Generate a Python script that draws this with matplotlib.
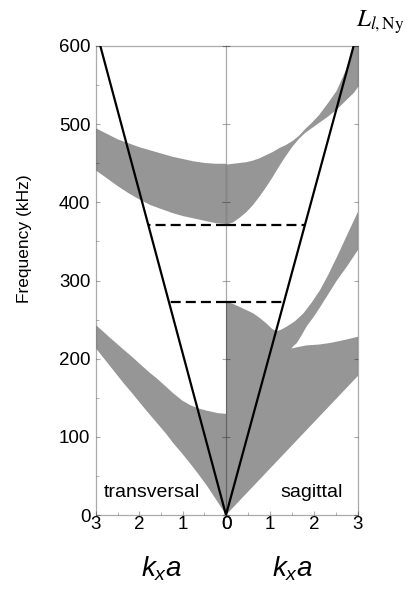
import numpy as np
import matplotlib
matplotlib.use("Agg")
import matplotlib.pyplot as plt
from matplotlib.ticker import MultipleLocator

plt.rcParams['font.family'] = ['Liberation Sans', 'DejaVu Sans']
plt.rcParams['mathtext.fontset'] = 'custom'
plt.rcParams['mathtext.it'] = 'Liberation Sans:italic'
plt.rcParams['mathtext.rm'] = 'Liberation Sans'

# longitudinal sound line L_l,Ny (same on both sides)
sound_k = [0.0, 2.9]
sound_f = [0.0, 600.0]
# frequencies of the horizontal dashed markers (kHz)
dash_levels = [371, 272]

# transversal side: bands as (k, lower, upper)
tr_up_k = [0.0, 0.25, 0.5, 0.75, 1.0, 1.25, 1.5, 1.75, 2.0, 2.25, 2.5, 2.75, 3.0]
tr_up_lo = [373, 374, 377, 380, 383, 387, 392, 397, 404, 412, 421, 431, 441]
tr_up_hi = [450, 450, 451, 453, 456, 459, 463, 467, 471, 476, 481, 488, 495]

tr_lo_k = [0.0, 0.2, 0.45, 0.65, 0.83, 1.02, 1.22, 1.4, 1.6, 1.8, 1.98, 2.2, 2.37, 2.7, 3.0]
tr_lo_lo = [0, 17, 38, 53, 66, 79, 92, 105, 118, 131, 143, 158, 169, 192, 213]
tr_lo_hi = [130, 131, 134, 137, 141, 147, 156, 165, 175, 184, 193, 204, 212, 228, 243]

# sagittal side
sg_up_k = [0.0, 0.15, 0.3, 0.45, 0.6, 0.75, 0.9, 1.05, 1.2, 1.35, 1.5,
           1.65, 1.8, 1.95, 2.1, 2.3, 2.5, 2.7, 2.9, 3.0]
sg_up_lo = [372, 375, 381, 388, 397, 408, 420, 433, 447, 460, 472,
            482, 490, 496, 502, 510, 519, 530, 541, 549]
sg_up_hi = [449, 450, 451, 452, 454, 457, 461, 465, 470, 474, 479,
            486, 495, 503, 512, 527, 543, 568, 600, 612]

# lower region joined with the rising middle band (outline)
sg_lo_k = [0.0, 3.0, 3.0, 2.7, 2.36, 2.1, 1.83, 1.65, 1.49, 1.53, 1.61,
           1.72, 1.83, 2.0, 2.14, 2.33, 2.52, 2.75, 3.0,
           3.0, 2.75, 2.52, 2.33, 2.14, 1.95, 1.76, 1.57, 1.38, 1.25,
           1.15, 1.05, 0.92, 0.77, 0.62, 0.47, 0.32, 0.16, 0.0]
sg_lo_f = [0, 178, 228, 224, 220, 218, 217, 215, 213, 216, 220,
           230, 241, 254, 266, 283, 300, 318, 339,
           388, 358, 330, 308, 288, 272, 258, 248, 241, 237,
           235, 238, 245, 252, 258, 262, 266, 270, 273]

band_color = '#969696'
frame_color = (0, 0, 0, 0.33)

W, H = 408, 592
fig = plt.figure(figsize=(W / 100, H / 100), dpi=100)
axL = fig.add_axes([96 / W, 77 / H, 130 / W, 469 / H])
axR = fig.add_axes([226 / W, 77 / H, 132 / W, 469 / H])

axL.fill_between(tr_up_k, tr_up_lo, tr_up_hi, color=band_color, lw=0)
axL.fill_between(tr_lo_k, tr_lo_lo, tr_lo_hi, color=band_color, lw=0)
axR.fill_between(sg_up_k, sg_up_lo, sg_up_hi, color=band_color, lw=0)
axR.fill(sg_lo_k, sg_lo_f, color=band_color, lw=0)

slope = (sound_f[1] - sound_f[0]) / (sound_k[1] - sound_k[0])
for ax in (axL, axR):
    ax.plot(sound_k, sound_f, color='black', lw=1.6, solid_capstyle='butt')
    for lvl in dash_levels:
        ax.plot([0, lvl / slope], [lvl, lvl], color='black', lw=1.6,
                linestyle=(0, (4.5, 2.3)))
    ax.set_ylim(0, 600)
    for s in ax.spines.values():
        s.set_color(frame_color)
        s.set_linewidth(0.9)
    ax.xaxis.set_major_locator(MultipleLocator(1))
    ax.xaxis.set_minor_locator(MultipleLocator(0.5))
    ax.yaxis.set_major_locator(MultipleLocator(100))
    ax.tick_params(which='both', direction='in', color=frame_color,
                   labelsize=13.5, left=True, right=True)
    ax.tick_params(which='major', length=3)
    ax.tick_params(which='minor', length=2)
    ax.tick_params(axis='x', pad=1)
    ax.set_xlabel(r'$k_x a$', fontsize=20)
    ax.xaxis.set_label_coords(0.5, -0.085)

axL.set_xlim(3, 0)
axR.set_xlim(0, 3)
axL.yaxis.set_minor_locator(MultipleLocator(50))
axL.tick_params(axis='y', which='minor', right=False)
axL.tick_params(axis='y', pad=4)
axR.tick_params(axis='y', labelleft=False)
# the shared middle line is drawn once, by the right panel
axL.spines['right'].set_visible(False)

axL.set_ylabel('Frequency (kHz)', fontsize=12.5)
axL.yaxis.set_label_coords(-0.49, 0.59)

axL.text(0.06, 0.038, 'transversal', transform=axL.transAxes,
         fontsize=14, ha='left', va='baseline')
axR.text(0.41, 0.038, 'sagittal', transform=axR.transAxes,
         fontsize=14, ha='left', va='baseline')

fig.text(356 / W, 1 - 27 / H, r'$L_{l,\mathrm{Ny}}$', fontsize=18,
         math_fontfamily='stix', ha='left', va='baseline')

fig.savefig('out.png', dpi=100)
